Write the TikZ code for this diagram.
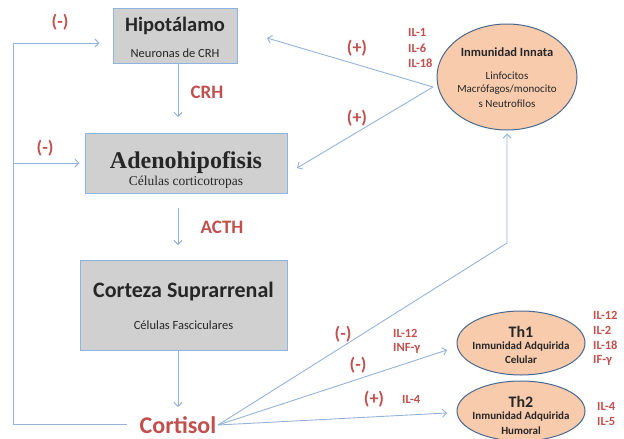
\documentclass[tikz,border=0pt]{standalone}
\usepackage{fontspec}
\setmainfont{Carlito}
\newfontfamily\serifb{Liberation Serif}
\usetikzlibrary{arrows.meta,shapes.geometric}
\definecolor{redt}{HTML}{C0504D}
\definecolor{lineb}{HTML}{95B3D7}
\definecolor{boxg}{HTML}{D0D0D0}
\definecolor{boxb}{HTML}{8EB4E3}
\definecolor{peach}{HTML}{F8CBAD}
\definecolor{ellb}{HTML}{4A6890}
\begin{document}
\begin{tikzpicture}[x=1pt,y=-1pt,
 conn/.style={draw=lineb, line width=0.9pt},
 arr/.style={conn, -{Straight Barb[length=4pt,width=8pt]}},
 gbox/.style={draw=boxb, fill=boxg, line width=1pt, inner sep=0pt},
 cell/.style={draw=ellb, fill=peach, ellipse, line width=1pt, inner sep=0pt},
 lab/.style={text=redt, font=\bfseries\fontsize{18}{18}\selectfont, inner sep=0pt},
 il/.style={text=redt, font=\bfseries\fontsize{12.5}{15}\selectfont, inner sep=0pt, anchor=west},
 txt/.style={inner sep=0pt, text=black!85},
]
\useasboundingbox (0,0) rectangle (624,439);
\clip (0,0) rectangle (624,439);

% boxes
\node[gbox, minimum width=124pt, minimum height=55pt] (hipo) at (175,35.5) {};
\node[txt, font=\bfseries\fontsize{20.5}{20}\selectfont] (hipoT) at (175,26) {Hipotálamo};
\node[txt, font=\fontsize{12.5}{14}\selectfont] (hipoS) at (175,53) {Neuronas de CRH};

\node[gbox, minimum width=202pt, minimum height=60pt] (adeno) at (186,163) {};
\node[txt, font=\serifb\bfseries\fontsize{24}{24}\selectfont] (adenoT) at (186,163) {Adenohipofisis};
\node[txt, font=\serifb\fontsize{13.5}{14}\selectfont] (adenoS) at (186,182) {Células corticotropas};

\node[gbox, minimum width=207pt, minimum height=90pt] (corteza) at (183.5,305) {};
\node[txt, font=\bfseries\fontsize{22}{22}\selectfont] (cortezaT) at (183.5,292) {Corteza Suprarrenal};
\node[txt, font=\fontsize{12.5}{14}\selectfont] (cortezaS) at (183.5,325) {Células Fasciculares};

\node[text=redt, inner sep=0pt, font=\bfseries\fontsize{24}{24}\selectfont] (cortisol) at (178,425) {Cortisol};

% ellipses
\node[cell, minimum width=140pt, minimum height=106pt] (innate) at (507,77) {};
\node[txt, font=\bfseries\fontsize{12.5}{14}\selectfont] (innT) at (507,52) {Inmunidad Innata};
\node[txt, font=\fontsize{11}{14}\selectfont] (innA) at (507,76) {Linfocitos};
\node[txt, font=\fontsize{11}{14}\selectfont] (innB) at (507,90) {Macrófagos/monocito};
\node[txt, font=\fontsize{11}{14}\selectfont] (innC) at (507,104) {s Neutrofilos};

\node[cell, minimum width=128pt, minimum height=64pt] (th1) at (521,343) {};
\node[txt, font=\bfseries\fontsize{16}{16}\selectfont] (th1T) at (521,332) {Th1};
\node[txt, font=\bfseries\fontsize{11}{13}\selectfont] (th1A) at (521,347) {Inmunidad Adquirida};
\node[txt, font=\bfseries\fontsize{11}{13}\selectfont] (th1B) at (521,360) {Celular};

\node[cell, minimum width=128pt, minimum height=60pt] (th2) at (521,411) {};
\node[txt, font=\bfseries\fontsize{16}{16}\selectfont] (th2T) at (521,402) {Th2};
\node[txt, font=\bfseries\fontsize{11}{13}\selectfont] (th2A) at (521,417) {Inmunidad Adquirida};
\node[txt, font=\bfseries\fontsize{11}{13}\selectfont] (th2B) at (521,431) {Humoral};

% red labels
\node[lab] (m1) at (60,22) {(-)};
\node[lab] (m2) at (45,148) {(-)};
\node[lab, font=\bfseries\fontsize{19}{19}\selectfont] (crh) at (207,92) {CRH};
\node[lab, font=\bfseries\fontsize{19}{19}\selectfont] (acth) at (222,227) {ACTH};
\node[lab] (p1) at (357,48) {(+)};
\node[lab] (p2) at (357,118) {(+)};
\node[lab] (m3) at (343,334) {(-)};
\node[lab] (m4) at (358,365) {(-)};
\node[lab] (p3) at (374,399) {(+)};

\node[il] (il1) at (408,32) {IL-1};
\node[il] (il6) at (408,48) {IL-6};
\node[il] (il18) at (408,63) {IL-18};
\node[il] (mil12) at (393,333) {IL-12};
\node[il] (minf) at (393,348) {INF-γ};
\node[il] (mil4) at (402,399) {IL-4};
\node[il] (ril12) at (593,315) {IL-12};
\node[il] (ril2) at (593,330) {IL-2};
\node[il] (ril18) at (593,345) {IL-18};
\node[il] (rifg) at (593,360) {IF-γ};
\node[il] (ril4) at (597,406) {IL-4};
\node[il] (ril5) at (597,421) {IL-5};

% coordinates
\coordinate (crhEnd) at (178,117);
\coordinate (acthS) at (178,208);
\coordinate (acthE) at (178,245);
\coordinate (cortTop) at (178,407);
\coordinate (fbBL) at (13,424);
\coordinate (fbTL) at (13,43);
\coordinate (fbML) at (13,163);
\coordinate (innSrc) at (433,87);
\coordinate (hipoTip) at (267,38);
\coordinate (adenoTip) at (297,168);
\coordinate (bend) at (507,243);
\coordinate (th1Tip) at (447,350);
\coordinate (th2Tip) at (447,413);
\coordinate (cortR) at (218,425);
\coordinate (cortL) at (127,424);

% connectors
\draw[arr] (hipo.south -| crhEnd) -- (crhEnd);
\draw[arr] (acthS) -- (acthE);
\draw[arr] (corteza.south -| cortTop) -- (cortTop);
\draw[arr] (cortL) -- (fbBL) -- (fbTL) -- ([xshift=-13pt]hipo.west |- fbTL);
\draw[arr] (fbML) -- ([xshift=-5pt]adeno.west |- fbML);
\draw[arr] (innSrc) -- (hipoTip);
\draw[arr] (innSrc) -- (adenoTip);
\draw[arr] (cortR) -- (bend) -- ([yshift=-3pt]innate.south);
\draw[arr] (cortR) -- (th1Tip);
\draw[arr] (cortR) -- (th2Tip);
\end{tikzpicture}
\end{document}
